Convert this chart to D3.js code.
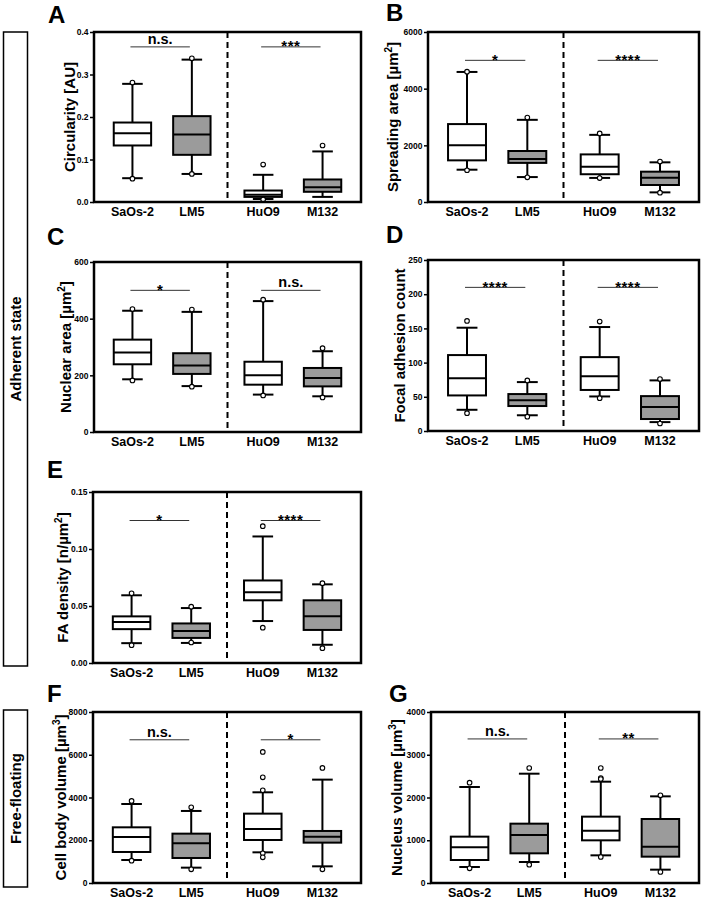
<!DOCTYPE html>
<html>
<head>
<meta charset="utf-8">
<script src="https://cdn.jsdelivr.net/npm/d3@7"></script>
<style>
  html, body { margin: 0; padding: 0; background: #ffffff; }
  svg { display: block; font-family: "Liberation Sans", Arial, sans-serif; }
</style>
</head>
<body>
<script>
// ---------------- DATA ----------------
const categories = ["SaOs-2", "LM5", "HuO9", "M132"];

// box stats per category: [lower whisker, Q1, median, Q3, upper whisker]
const circularityStats = [[0.056, 0.133, 0.162, 0.187, 0.278], [0.066, 0.111, 0.159, 0.202, 0.335], [0.007, 0.012, 0.017, 0.027, 0.064], [0.012, 0.024, 0.035, 0.053, 0.119]];
const circularityOutliers = [[0.281, 0.055], [0.338, 0.066], [0.088, 0.006], [0.133]];
const circularityTicks = [0, 0.1, 0.2, 0.3, 0.4];
const circularityTickLabels = ["0.0", "0.1", "0.2", "0.3", "0.4"];
const circularitySig = ["n.s.", "***"];

const spreadingStats = [[1140, 1470, 2000, 2750, 4590], [880, 1380, 1520, 1800, 2900], [850, 980, 1240, 1680, 2370], [340, 600, 860, 1070, 1400]];
const spreadingOutliers = [[4600, 1120], [2980, 870], [2420, 845], [1430, 330]];
const spreadingTicks = [0, 2000, 4000, 6000];
const spreadingTickLabels = ["0", "2000", "4000", "6000"];
const spreadingSig = ["*", "****"];

const nuclearStats = [[186, 239, 281, 326, 428], [162, 205, 235, 278, 424], [132, 167, 200, 248, 462], [126, 161, 191, 226, 285]];
const nuclearOutliers = [[434, 182], [432, 160], [467, 129], [296, 122]];
const nuclearTicks = [0, 200, 400, 600];
const nuclearTickLabels = ["0", "200", "400", "600"];
const nuclearSig = ["*", "n.s."];

const focalStats = [[31, 52, 77, 111, 151], [23, 36.5, 45, 54, 71.5], [50.5, 60, 80, 108, 152], [13, 17.5, 35, 51, 74]];
const focalOutliers = [[161, 26], [74, 21], [160, 48], [76, 11]];
const focalTicks = [0, 50, 100, 150, 200, 250];
const focalTickLabels = ["0", "50", "100", "150", "200", "250"];
const focalSig = ["****", "****"];

const densityStats = [[0.0174, 0.0297, 0.0359, 0.0409, 0.0594], [0.0176, 0.022, 0.028, 0.0347, 0.0482], [0.0368, 0.055, 0.062, 0.0724, 0.111], [0.016, 0.029, 0.041, 0.055, 0.069]];
const densityOutliers = [[0.0612, 0.0156], [0.0494, 0.018], [0.120, 0.031], [0.070, 0.013]];
const densityTicks = [0, 0.05, 0.10, 0.15];
const densityTickLabels = ["0.00", "0.05", "0.10", "0.15"];
const densitySig = ["*", "****"];

const cellVolStats = [[1076, 1451, 2153, 2605, 3697], [718, 1170, 1856, 2309, 3370], [1435, 2012, 2527, 3245, 4243], [780, 1888, 2168, 2434, 4836]];
const cellVolOutliers = [[3838, 1045], [3541, 640], [6131, 4945, 4337, 1388, 1201], [5382, 640]];
const cellVolTicks = [0, 2000, 4000, 6000, 8000];
const cellVolTickLabels = ["0", "2000", "4000", "6000", "8000"];
const cellVolSig = ["n.s.", "*"];

const nucVolStats = [[374, 538, 834, 1084, 2246], [491, 694, 1123, 1388, 2557], [647, 998, 1224, 1552, 2370], [312, 616, 850, 1497, 2027]];
const nucVolOutliers = [[2347, 343], [2690, 429], [2690, 2456, 2433, 608], [2051, 257]];
const nucVolTicks = [0, 1000, 2000, 3000, 4000];
const nucVolTickLabels = ["0", "1000", "2000", "3000", "4000"];
const nucVolSig = ["n.s.", "**"];

// ---------------- STYLE / LAYOUT ----------------
const fills = ["#ffffff", "#9b9b9b", "#ffffff", "#9b9b9b"];

const panels = [
  { letter: "A", title: ["Circularity [AU]"], stats: circularityStats, outliers: circularityOutliers, ticks: circularityTicks, tickLabels: circularityTickLabels, sig: circularitySig, sigY: 0.365,
    left: 94, right: 361, top: 32, bottom: 202, titleX: 75, letterX: 48, letterY: 23 },
  { letter: "B", title: ["Spreading area [µm", "2", "]"], stats: spreadingStats, outliers: spreadingOutliers, ticks: spreadingTicks, tickLabels: spreadingTickLabels, sig: spreadingSig, sigY: 5000,
    left: 428, right: 699, top: 32, bottom: 202, titleX: 398, letterX: 386, letterY: 21 },
  { letter: "C", title: ["Nuclear area [µm", "2", "]"], stats: nuclearStats, outliers: nuclearOutliers, ticks: nuclearTicks, tickLabels: nuclearTickLabels, sig: nuclearSig, sigY: 500,
    left: 94, right: 361, top: 262, bottom: 432, titleX: 71, letterX: 47, letterY: 245 },
  { letter: "D", title: ["Focal adhesion count"], stats: focalStats, outliers: focalOutliers, ticks: focalTicks, tickLabels: focalTickLabels, sig: focalSig, sigY: 210,
    left: 428, right: 699, top: 260, bottom: 431, titleX: 405, letterX: 386, letterY: 243 },
  { letter: "E", title: ["FA density [n/µm", "2", "]"], stats: densityStats, outliers: densityOutliers, ticks: densityTicks, tickLabels: densityTickLabels, sig: densitySig, sigY: 0.125,
    left: 93, right: 361, top: 492, bottom: 663, titleX: 68, letterX: 47, letterY: 478 },
  { letter: "F", title: ["Cell body volume [µm", "3", "]"], stats: cellVolStats, outliers: cellVolOutliers, ticks: cellVolTicks, tickLabels: cellVolTickLabels, sig: cellVolSig, sigY: 6700,
    left: 93, right: 361, top: 712, bottom: 883, titleX: 66, letterX: 47, letterY: 702 },
  { letter: "G", title: ["Nucleus volume [µm", "3", "]"], stats: nucVolStats, outliers: nucVolOutliers, ticks: nucVolTicks, tickLabels: nucVolTickLabels, sig: nucVolSig, sigY: 3370,
    left: 431, right: 699, top: 712, bottom: 883, titleX: 402, letterX: 389, letterY: 702 }
];

const svg = d3.select("body").append("svg").attr("width", 702).attr("height", 900);

// side group labels
const sideGroups = [
  { label: "Adherent state", top: 32, bottom: 666 },
  { label: "Free-floating", top: 710, bottom: 887 }
];
sideGroups.forEach(s => {
  svg.append("rect").attr("x", 3.5).attr("y", s.top).attr("width", 24).attr("height", s.bottom - s.top)
    .attr("fill", "none").attr("stroke", "#000").attr("stroke-width", 1.5);
  svg.append("text").attr("transform", `translate(21,${(s.top + s.bottom) / 2}) rotate(-90)`)
    .attr("text-anchor", "middle").attr("font-size", 15).attr("font-weight", "bold").text(s.label);
});

function drawPanel(p) {
  const g = svg.append("g");
  const x = d3.scaleLinear().domain([-0.647, 3.847]).range([p.left, p.right]);
  const pos = i => x(i + (i >= 2 ? 0.2 : 0));
  const yMax = p.ticks[p.ticks.length - 1];
  const y = d3.scaleLinear().domain([0, yMax]).range([p.bottom, p.top]);
  const w = p.right - p.left;
  const bw = 0.14 * w, cw = 0.55 * bw;

  // y axis
  const ax = g.append("g").attr("transform", `translate(${p.left},0)`)
    .call(d3.axisLeft(y).tickValues(p.ticks).tickFormat((d, i) => p.tickLabels[i]).tickSize(4).tickPadding(1.5));
  ax.select(".domain").remove();
  ax.selectAll(".tick line").attr("stroke", "#000").attr("stroke-width", 1.5);
  ax.selectAll(".tick text").attr("font-size", 8.5).attr("font-weight", "bold").attr("fill", "#000")
    .attr("font-family", "'Liberation Sans', Arial, sans-serif");

  // dashed separator
  g.append("line").attr("x1", (p.left + p.right) / 2).attr("x2", (p.left + p.right) / 2)
    .attr("y1", p.top).attr("y2", p.bottom).attr("stroke", "#000").attr("stroke-width", 2).attr("stroke-dasharray", "6,4");

  // boxes
  p.stats.forEach((s, i) => {
    const cx = pos(i);
    const [lo, q1, med, q3, hi] = s;
    const bg = g.append("g").attr("stroke", "#000").attr("stroke-width", 2);
    bg.append("line").attr("x1", cx).attr("x2", cx).attr("y1", y(hi)).attr("y2", y(q3));
    bg.append("line").attr("x1", cx).attr("x2", cx).attr("y1", y(q1)).attr("y2", y(lo));
    bg.append("line").attr("x1", cx - cw / 2).attr("x2", cx + cw / 2).attr("y1", y(hi)).attr("y2", y(hi));
    bg.append("line").attr("x1", cx - cw / 2).attr("x2", cx + cw / 2).attr("y1", y(lo)).attr("y2", y(lo));
    bg.append("rect").attr("x", cx - bw / 2).attr("y", y(q3)).attr("width", bw).attr("height", y(q1) - y(q3))
      .attr("fill", fills[i]);
    bg.append("line").attr("x1", cx - bw / 2).attr("x2", cx + bw / 2).attr("y1", y(med)).attr("y2", y(med));
    p.outliers[i].forEach(o => {
      g.append("circle").attr("cx", cx).attr("cy", y(o)).attr("r", 2.3)
        .attr("fill", "#fff").attr("stroke", "#000").attr("stroke-width", 1.1);
    });
  });

  // significance annotations
  [[0, 1], [2, 3]].forEach((pair, k) => {
    const x1 = pos(pair[0]) - 2, x2 = pos(pair[1]) - 2;
    const ly = y(p.sigY);
    g.append("line").attr("x1", x1).attr("x2", x2).attr("y1", ly).attr("y2", ly)
      .attr("stroke", "#333").attr("stroke-width", 1);
    const lab = p.sig[k];
    const isStar = lab.indexOf("*") >= 0;
    g.append("text").attr("x", (x1 + x2) / 2).attr("y", isStar ? ly + 4.5 : ly - 3)
      .attr("text-anchor", "middle").attr("font-weight", "bold")
      .attr("font-size", isStar ? 15 : 14.5).attr("letter-spacing", isStar ? 0.5 : 0).text(lab);
  });

  // frame
  g.append("rect").attr("x", p.left).attr("y", p.top).attr("width", w).attr("height", p.bottom - p.top)
    .attr("fill", "none").attr("stroke", "#000").attr("stroke-width", 2.5);

  // x labels
  categories.forEach((c, i) => {
    g.append("text").attr("x", pos(i)).attr("y", p.bottom + 14).attr("text-anchor", "middle")
      .attr("font-size", 12.5).attr("font-weight", "bold").text(c);
  });

  // y title
  const t = g.append("text").attr("transform", `translate(${p.titleX},${(p.top + p.bottom) / 2}) rotate(-90)`)
    .attr("text-anchor", "middle").attr("font-size", 15).attr("font-weight", "bold");
  t.append("tspan").text(p.title[0]);
  if (p.title.length > 1) {
    t.append("tspan").attr("dy", -6).attr("font-size", 10).text(p.title[1]);
    t.append("tspan").attr("dy", 6).text(p.title[2]);
  }

  // panel letter
  svg.append("text").attr("x", p.letterX).attr("y", p.letterY).attr("font-size", 24).attr("font-weight", "bold").text(p.letter);
}

panels.forEach(drawPanel);
</script>
</body>
</html>
